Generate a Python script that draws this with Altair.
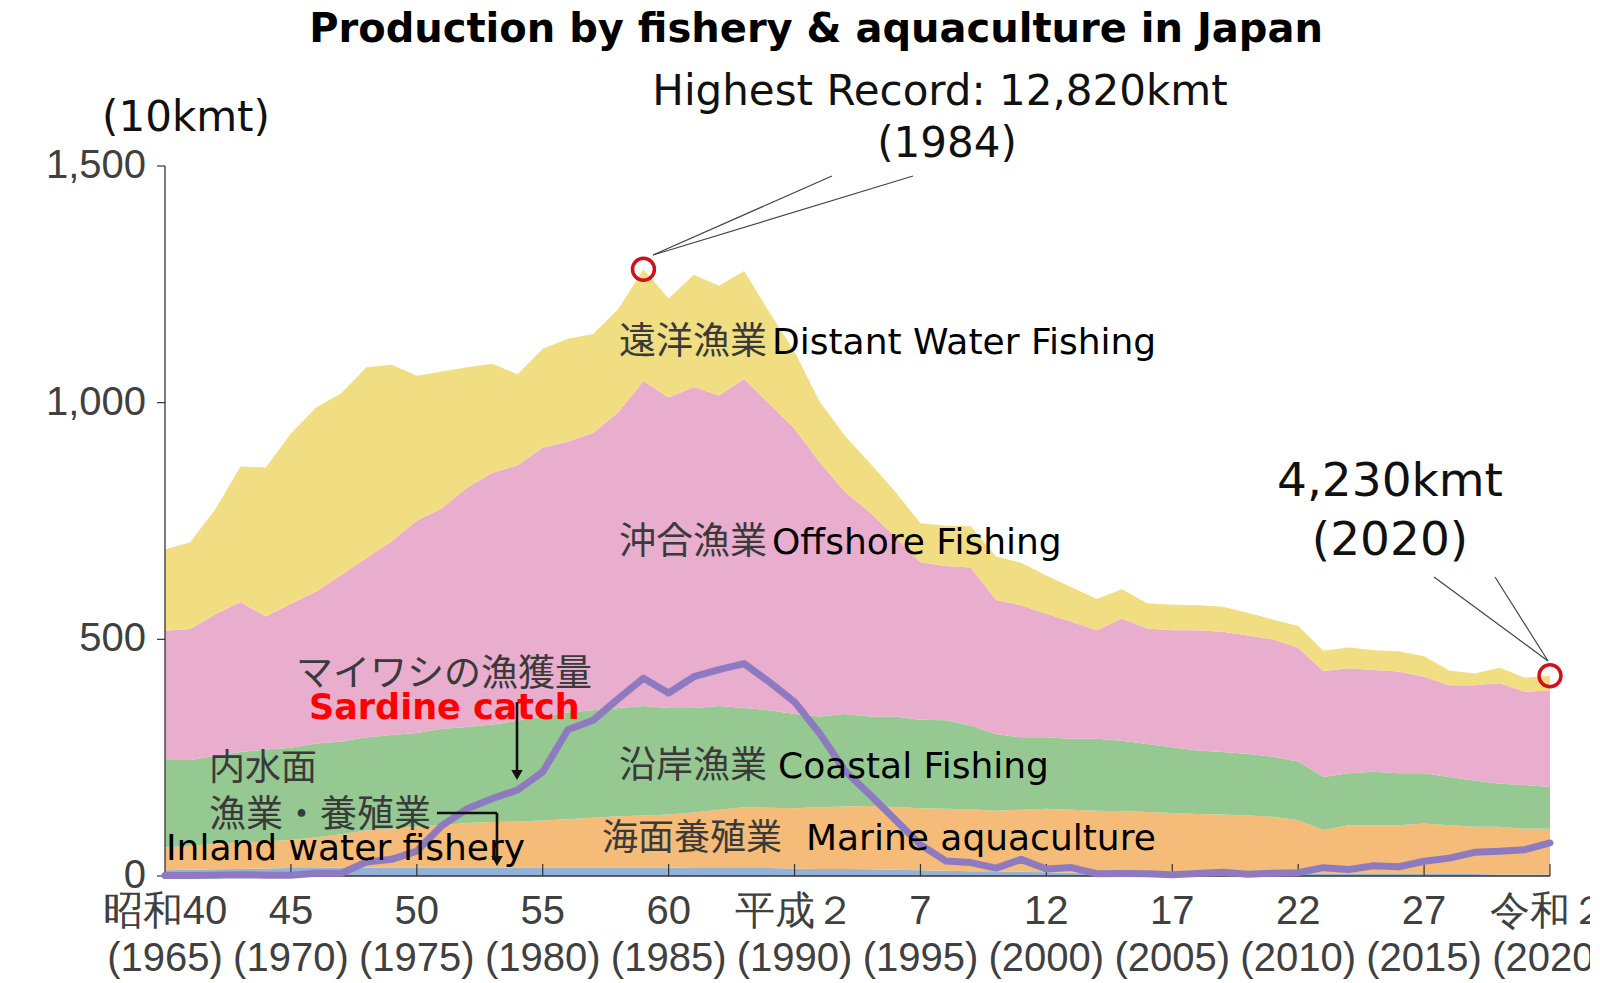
import altair as alt
import pandas as pd

# ---------------- data (10kmt) ----------------
years = list(range(1965, 2021))

inland = [12, 13, 14, 15, 16, 17, 17, 18, 18, 18,
          18, 18, 18, 18, 18, 18, 18, 18, 18, 18,
          18, 17, 17, 17, 17, 16, 15, 15, 14, 13,
          12, 11, 10, 10, 9, 8, 7, 7, 6, 6,
          5, 5, 5, 5, 5, 4, 4, 4, 4, 4,
          4, 4, 4, 3, 3, 3]
marine = [48, 51, 54, 56, 57, 59, 65, 70, 78, 82,
          86, 90, 94, 96, 97, 99, 102, 105, 108, 110,
          112, 117, 123, 128, 127, 127, 130, 132, 134, 133,
          131, 131, 131, 128, 131, 134, 133, 131, 131, 129,
          128, 126, 125, 123, 120, 114, 93, 103, 103, 103,
          107, 103, 100, 101, 97, 97]
coastal = [185, 181, 186, 191, 194, 195, 198, 196, 197, 198,
           198, 203, 203, 206, 213, 220, 226, 227, 229, 231,
           225, 221, 219, 210, 206, 199, 192, 195, 189, 191,
           187, 187, 177, 162, 153, 151, 150, 152, 149, 144,
           139, 134, 132, 130, 127, 124, 112, 110, 113, 110,
           106, 102, 98, 91, 92, 88]
offshore = [273, 277, 299, 317, 281, 304, 321, 352, 379, 409,
            449, 466, 506, 532, 540, 568, 572, 586, 625, 687,
            656, 678, 656, 695, 647, 603, 537, 470, 431, 379,
            333, 326, 334, 283, 279, 261, 247, 229, 258, 244,
            247, 254, 254, 250, 248, 240, 224, 222, 215, 215,
            204, 194, 201, 212, 197, 204]
distant = [172, 183, 222, 286, 315, 360, 389, 384, 403, 373,
           306, 289, 254, 230, 192, 209, 217, 209, 218, 236,
           209, 237, 232, 228, 194, 163, 128, 118, 104, 96,
           82, 85, 87, 92, 90, 81, 73, 66, 62, 53,
           54, 53, 53, 48, 42, 46, 43, 44, 42, 43,
           43, 31, 25, 33, 30, 31]
sardine = [0.9, 1.3, 1.7, 2.4, 1.7, 1.7, 5.8, 5.8, 29.7, 35.2,
           52.7, 106.6, 142.0, 163.7, 181.7, 219.8, 308.9, 329.0, 374.5, 417.9,
           386.6, 421.0, 436.2, 448.8, 409.9, 367.8, 301.0, 222.4, 171.4, 118.9,
           66.1, 31.9, 28.4, 16.7, 35.1, 15.0, 17.8, 5.0, 5.2, 5.0,
           2.8, 5.3, 7.9, 3.5, 5.7, 7.0, 17.6, 13.5, 21.5, 19.6,
           31.1, 37.8, 50.0, 52.2, 55.6, 69.8]

record_years = [1984, 2020]
record_totals = [1282, 423]

categories = ["内水面漁業・養殖業", "海面養殖業", "沿岸漁業", "沖合漁業", "遠洋漁業"]
colors = ["#92b2d6", "#f4bc78", "#96c991", "#e9adce", "#f2de82"]

tick_years = list(range(1965, 2021, 5))
era_labels = ["昭和40", "45", "50", "55", "60", "平成２", "7", "12", "17", "22", "27", "令和２"]
ad_labels = ["(1965)", "(1970)", "(1975)", "(1980)", "(1985)", "(1990)",
             "(1995)", "(2000)", "(2005)", "(2010)", "(2015)", "(2020)"]
y_ticks = [0, 500, 1000, 1500]
y_labels = ["0", "500", "1,000", "1,500"]

title_text = "Production by fishery & aquaculture in Japan"

# ---------------- layout ----------------
W, H = 1385, 710
JP_FONT = "Noto Sans CJK JP"
EN_FONT = "DejaVu Sans"
AX_FONT = "Liberation Sans"
AX_COLOR = "#404040"
LINE_COLOR = "#333333"

rows = []
for rank, (cat, vals) in enumerate(zip(categories, [inland, marine, coastal, offshore, distant])):
    for yr, v in zip(years, vals):
        rows.append({"year": yr, "category": cat, "value": v, "rank": rank})
df = pd.DataFrame(rows)

x_scale = alt.Scale(domain=[1965, 2020], nice=False, zero=False)
y_scale = alt.Scale(domain=[0, 1500], nice=False)

areas = alt.Chart(df).mark_area(interpolate="linear").encode(
    x=alt.X("year:Q", scale=x_scale, axis=None),
    y=alt.Y("value:Q", stack="zero", scale=y_scale, axis=None),
    color=alt.Color("category:N", scale=alt.Scale(domain=categories, range=colors), legend=None),
    order=alt.Order("rank:Q", sort="ascending"),
)

# x axis: inward ticks + two-line labels
xlab_df = pd.DataFrame({"year": tick_years, "era": era_labels, "ad": ad_labels})
xticks = alt.Chart(pd.DataFrame({"year": tick_years[1:]})).mark_rule(
    color=LINE_COLOR, strokeWidth=1.2).encode(
    x=alt.X("year:Q", scale=x_scale, axis=None),
    y=alt.value(H), y2=alt.value(H - 12))
xlab1 = alt.Chart(xlab_df).mark_text(
    font=AX_FONT, fontSize=40, color=AX_COLOR, align="center", baseline="middle").encode(
    x=alt.X("year:Q", scale=x_scale, axis=None), y=alt.value(H + 36), text="era:N")
xlab2 = alt.Chart(xlab_df).mark_text(
    font=AX_FONT, fontSize=40, color=AX_COLOR, align="center", baseline="middle").encode(
    x=alt.X("year:Q", scale=x_scale, axis=None), y=alt.value(H + 83), text="ad:N")

# y axis: outward ticks + labels
ylab_df = pd.DataFrame({"v": y_ticks, "lab": y_labels})
yticks = alt.Chart(ylab_df).mark_rule(color=LINE_COLOR, strokeWidth=1.2).encode(
    y=alt.Y("v:Q", scale=y_scale, axis=None), x=alt.value(-8), x2=alt.value(0))
ylabs = alt.Chart(ylab_df).mark_text(
    font=AX_FONT, fontSize=40, color=AX_COLOR, align="right", baseline="middle").encode(
    y=alt.Y("v:Q", scale=y_scale, axis=None), x=alt.value(-19), text="lab:N")

sard_line = alt.Chart(pd.DataFrame({"year": years, "sardine": sardine})).mark_line(
    color="#8e7ac0", strokeWidth=7, strokeCap="round", strokeJoin="round").encode(
    x=alt.X("year:Q", scale=x_scale, axis=None),
    y=alt.Y("sardine:Q", scale=y_scale, axis=None))

circles = alt.Chart(pd.DataFrame({"year": record_years, "total": record_totals})).mark_point(
    shape="circle", size=480, filled=False, color="#d0101c", strokeWidth=3.5, opacity=1).encode(
    x=alt.X("year:Q", scale=x_scale, axis=None),
    y=alt.Y("total:Q", scale=y_scale, axis=None))


def seg(x1, y1, x2, y2, color, width):
    return alt.Chart(alt.Data(values=[{"k": 0}])).mark_rule(
        color=color, strokeWidth=width).encode(
        x=alt.value(x1), y=alt.value(y1), x2=alt.value(x2), y2=alt.value(y2))


def head(x, y):
    return alt.Chart(alt.Data(values=[{"k": 0}])).mark_point(
        shape="triangle-down", filled=True, size=130, color="#111111", opacity=1).encode(
        x=alt.value(x), y=alt.value(y))


def txt(text, x, y, size, color="#000000", weight="normal", font=EN_FONT, align="left"):
    return alt.Chart(alt.Data(values=[{"t": text}])).mark_text(
        align=align, baseline="middle", fontSize=size, font=font, fontWeight=weight,
        color=color).encode(x=alt.value(x), y=alt.value(y), text="t:N")


axis_lines = [
    seg(0, 0, 0, H, LINE_COLOR, 1.3),
    seg(0, H, W, H, LINE_COLOR, 1.3),
]

annotations = [
    seg(488, 89, 667, 10, "#444444", 1.2),
    seg(488, 89, 748, 10, "#444444", 1.2),
    seg(1383, 495, 1269, 411, "#444444", 1.2),
    seg(1383, 495, 1330, 411, "#444444", 1.2),
]

JP = "#3a3a3a"
texts = [
    txt(title_text, 651, -136, 40, weight="bold", align="center"),
    txt("Highest Record: 12,820kmt", 775, -74, 42, color="#111111", align="center"),
    txt("(1984)", 782, -22, 42, color="#111111", align="center"),
    txt("(10kmt)", 21, -48, 42, color="#111111", align="center"),
    txt("4,230kmt", 1225, 316, 47, color="#111111", align="center"),
    txt("(2020)", 1225, 375, 47, color="#111111", align="center"),
    txt("遠洋漁業", 454, 177, 37, color=JP, font=JP_FONT),
    txt("Distant Water Fishing", 607, 177, 36),
    txt("沖合漁業", 454, 377, 37, color=JP, font=JP_FONT),
    txt("Offshore Fishing", 607, 377, 36),
    txt("沿岸漁業", 454, 601, 37, color=JP, font=JP_FONT),
    txt("Coastal Fishing", 613, 601, 36),
    txt("海面養殖業", 437, 673, 36, color=JP, font=JP_FONT),
    txt("Marine aquaculture", 641, 673, 36),
    txt("マイワシの漁獲量", 131, 509, 37, color=JP, font=JP_FONT),
    txt("Sardine catch", 144, 542, 35, color="#ff0000", weight="bold"),
    txt("内水面", 44, 603, 36, color=JP, font=JP_FONT),
    txt("漁業・養殖業", 44, 650, 37, color=JP, font=JP_FONT),
    txt("Inland water fishery", 1, 683, 36),
]

arrows = [
    seg(352, 536, 352, 606, "#111111", 2.6),
    seg(272, 647, 332, 647, "#111111", 2.6),
    seg(332, 647, 332, 692, "#111111", 2.6),
    head(352, 609),
    head(332, 695),
]

chart = alt.layer(areas, *axis_lines, xticks, yticks, sard_line, circles,
                  xlab1, xlab2, ylabs, *annotations, *texts, *arrows).properties(
    width=W, height=H,
    autosize=alt.AutoSizeParams(type="none"),
    padding={"left": 157, "top": 158, "right": 40, "bottom": 104},
    background="white",
).configure_view(strokeWidth=0)

chart.save("out.html", embed_options={"renderer": "svg", "actions": False})
